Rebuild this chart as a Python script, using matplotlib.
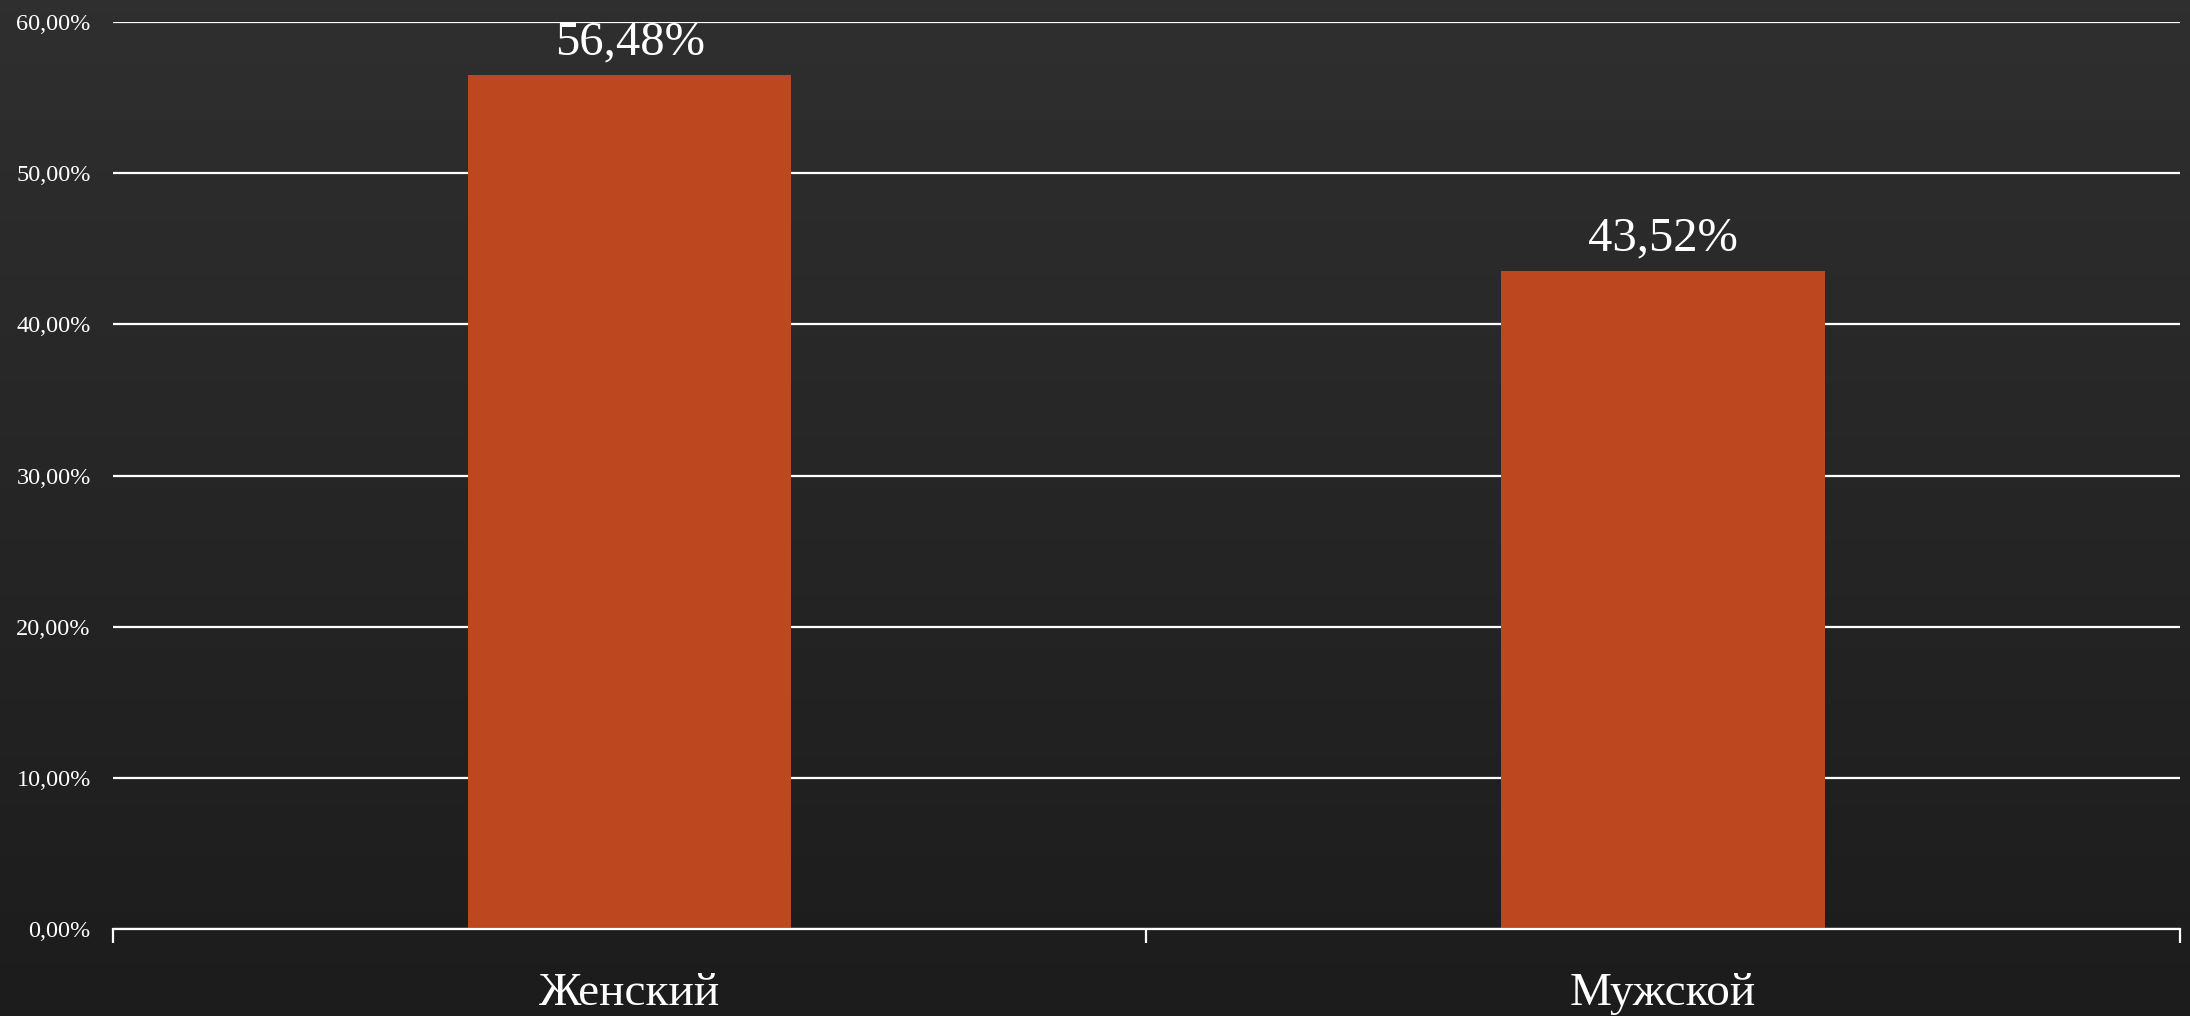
import numpy as np
import matplotlib
matplotlib.use("Agg")
import matplotlib.pyplot as plt
from matplotlib.ticker import FuncFormatter

# data
categories = ["Женский", "Мужской"]
shares = [56.48, 43.52]
y_ticks = [0, 10, 20, 30, 40, 50, 60]

bar_color = "#BD471E"
serif = ["Liberation Serif", "DejaVu Serif"]

fig = plt.figure(figsize=(21.9, 10.16), dpi=100)

# dark background, lighter at the top
bg = fig.add_axes([0, 0, 1, 1], zorder=-1)
grad = np.linspace(0.185, 0.11, 256).reshape(-1, 1)
bg.imshow(np.dstack([grad, grad, grad]), aspect="auto", extent=[0, 1, 0, 1])
bg.axis("off")

ax = fig.add_axes([0.0516, 0.0856, 0.9438, 0.8927])
ax.patch.set_alpha(0)

x = np.arange(len(categories))
bars = ax.bar(x, shares, width=0.313, color=bar_color, zorder=3)

ax.set_xlim(-0.5, len(categories) - 0.5)
ax.set_ylim(0, 60)
ax.set_yticks(y_ticks)
ax.yaxis.set_major_formatter(FuncFormatter(lambda v, _: f"{v:.2f}%".replace(".", ",")))
ax.grid(axis="y", color="white", linewidth=1.6, zorder=1)

for s in ["top", "right", "left"]:
    ax.spines[s].set_visible(False)
ax.spines["bottom"].set_color("white")
ax.spines["bottom"].set_linewidth(1.6)
ax.spines["bottom"].set_zorder(4)

ax.set_xticks(x)
ax.set_xticklabels(categories)
ax.set_xticks(np.arange(len(categories) + 1) - 0.5, minor=True)
ax.tick_params(axis="x", which="major", length=0, pad=31, labelsize=34, labelcolor="white")
ax.tick_params(axis="x", which="minor", length=10, width=1.6, color="white", direction="out")
ax.tick_params(axis="y", length=0, pad=16, labelsize=17.5, labelcolor="white")
for lbl in ax.get_xticklabels() + ax.get_yticklabels():
    lbl.set_family(serif)

labels = [f"{v:.2f}%".replace(".", ",") for v in shares]
for t in ax.bar_label(bars, labels=labels, padding=8, fontsize=35, color="white"):
    t.set_family(serif)

fig.savefig("out.png", dpi=100)
